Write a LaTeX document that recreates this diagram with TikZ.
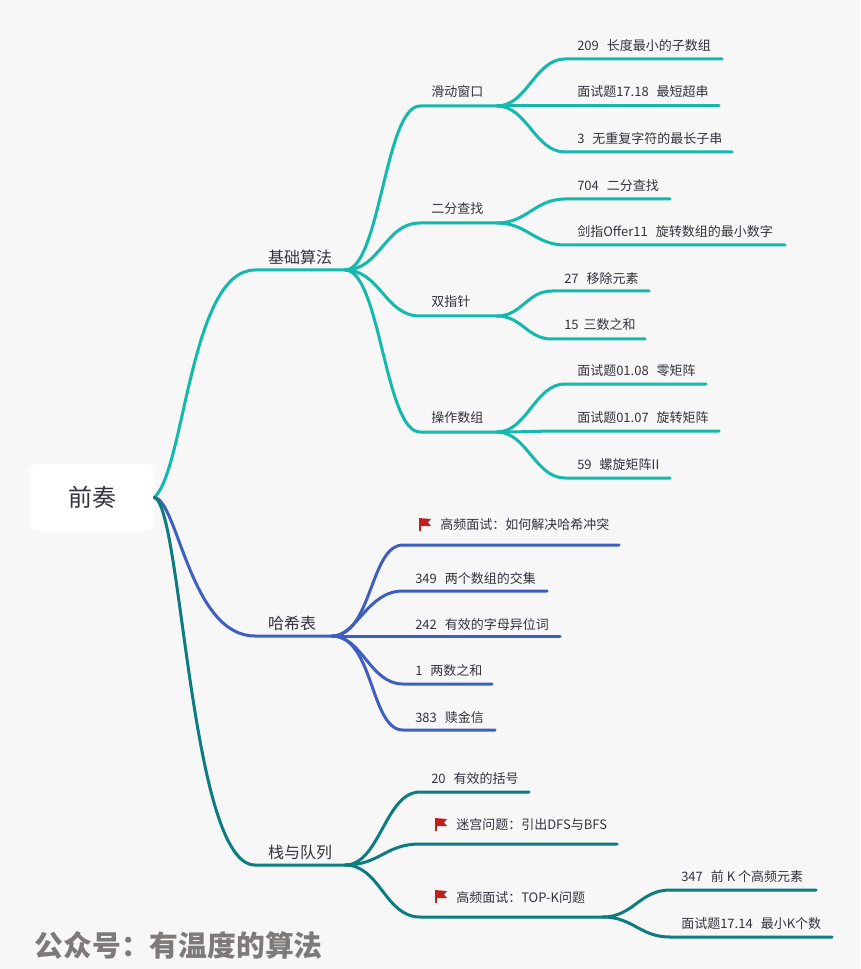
\documentclass[tikz,border=0pt]{standalone}
\usepackage{fontspec}
\setmainfont{Noto Sans CJK SC}
\usetikzlibrary{positioning}
\definecolor{pagegray}{HTML}{F7F7F7}
\definecolor{inkgray}{HTML}{33333D}
\definecolor{markgray}{HTML}{7F7A7A}
\definecolor{flagred}{HTML}{C0211C}
\definecolor{basecolor}{HTML}{12B9AC}
\definecolor{hashcolor}{HTML}{3F5FC0}
\definecolor{stackcolor}{HTML}{0C7C80}
\newcommand{\gap}{\hspace{6pt}}
\tikzset{
	topic/.style = {text=inkgray, font=\fontsize{12}{14}\selectfont, inner sep=0pt, yshift=-0.75pt},
	leaf/.style = {text=inkgray, font=\fontsize{9.75}{12}\selectfont, anchor=west, inner sep=0pt, yshift=-0.75pt},
	branch/.style = {line width=2.25pt, line cap=round},
	flagmark/.pic = {
		\fill[flagred] (0,0) rectangle (2,13);
		\fill[flagred] (0,0) -- (12,1) -- (9,4.5) -- (12,8) -- (0,8) -- cycle;
	}
}
\begin{document}
\begin{tikzpicture}[x=0.75pt,y=-0.75pt]
	\useasboundingbox (0,0) rectangle (860,969);
	\fill[pagegray] (0,0) rectangle (860,969);
	\node[fill=white, rounded corners=6pt, minimum width=93pt, minimum height=50.25pt, inner sep=0pt, text=inkgray, font=\fontsize{18}{20}\selectfont] (root) at (92,497.5) {前奏};
	\node[text=markgray, font=\fontsize{21.6}{24}\bfseries\selectfont, anchor=west, inner sep=0pt] (mark) at (34.5,945) {公众号：有温度的算法};

	% first group
	\node[topic] (base) at (300,256) {基础算法};
	\coordinate (baseS) at (255,270);
	\coordinate (baseE) at (345,270);
	\node[leaf] (win) at (431,91) {滑动窗口};
	\coordinate (winS) at (420,106);
	\coordinate (winE) at (497,106);
	\node[leaf] (bin) at (431,208) {二分查找};
	\coordinate (binS) at (420,223);
	\coordinate (binE) at (497,223);
	\node[leaf] (ptr) at (431,301) {双指针};
	\coordinate (ptrS) at (420,316);
	\coordinate (ptrE) at (497,316);
	\node[leaf] (mat) at (431,417) {操作数组};
	\coordinate (matS) at (420,432);
	\coordinate (matE) at (497,432);
	\node[leaf] (p209) at (577,45) {209\gap 长度最小的子数组};
	\coordinate (p209S) at (565,59);
	\coordinate (p209E) at (722,59);
	\node[leaf] (p1718) at (577,91) {面试题17.18\gap 最短超串};
	\coordinate (p1718S) at (565,106);
	\coordinate (p1718E) at (719,106);
	\node[leaf] (p3) at (577,138) {3\gap 无重复字符的最长子串};
	\coordinate (p3S) at (565,152);
	\coordinate (p3E) at (732,152);
	\node[leaf] (p704) at (577,185) {704\gap 二分查找};
	\coordinate (p704S) at (565,199);
	\coordinate (p704E) at (670,199);
	\node[leaf] (p11) at (577,231) {剑指Offer11\gap 旋转数组的最小数字};
	\coordinate (p11S) at (565,245);
	\coordinate (p11E) at (785,245);
	\node[leaf] (p27) at (564,278) {27\gap 移除元素};
	\coordinate (p27S) at (552,291);
	\coordinate (p27E) at (649,291);
	\node[leaf] (p15) at (564,324) {15\hspace{3.7pt}三数之和};
	\coordinate (p15S) at (552,339);
	\coordinate (p15E) at (645,339);
	\node[leaf] (p0108) at (577,370) {面试题01.08\gap 零矩阵};
	\coordinate (p0108S) at (565,384);
	\coordinate (p0108E) at (706,384);
	\node[leaf] (p0107) at (577,417) {面试题01.07\gap 旋转矩阵};
	\coordinate (p0107S) at (565,431);
	\coordinate (p0107E) at (719,431);
	\node[leaf] (p59) at (577,464) {59\gap 螺旋矩阵II};
	\coordinate (p59S) at (565,478);
	\coordinate (p59E) at (670,478);

	\begin{scope}[branch,basecolor]
		\draw (root.east) .. controls (185,470) and (190,270) .. (baseS) -- (baseE);
		\draw (baseE) .. controls +(35,0) and +(-35,0) .. (winS) -- (winE);
		\draw (baseE) .. controls +(35,0) and +(-35,0) .. (binS) -- (binE);
		\draw (baseE) .. controls +(35,0) and +(-35,0) .. (ptrS) -- (ptrE);
		\draw (baseE) .. controls +(35,0) and +(-35,0) .. (matS) -- (matE);
		\draw (winE) .. controls +(30,0) and +(-30,0) .. (p209S) -- (p209E);
		\draw (winE) .. controls +(30,0) and +(-30,0) .. (p1718S) -- (p1718E);
		\draw (winE) .. controls +(30,0) and +(-30,0) .. (p3S) -- (p3E);
		\draw (binE) .. controls +(30,0) and +(-30,0) .. (p704S) -- (p704E);
		\draw (binE) .. controls +(30,0) and +(-30,0) .. (p11S) -- (p11E);
		\draw (ptrE) .. controls +(25,0) and +(-25,0) .. (p27S) -- (p27E);
		\draw (ptrE) .. controls +(25,0) and +(-25,0) .. (p15S) -- (p15E);
		\draw (matE) .. controls +(30,0) and +(-30,0) .. (p0108S) -- (p0108E);
		\draw (matE) .. controls +(30,0) and +(-30,0) .. (p0107S) -- (p0107E);
		\draw (matE) .. controls +(30,0) and +(-30,0) .. (p59S) -- (p59E);
	\end{scope}

	% second group
	\node[topic] (hash) at (292,622) {哈希表};
	\coordinate (hashS) at (255,636);
	\coordinate (hashE) at (332,636);
	\pic at (419,518) {flagmark};
	\node[leaf] (conf) at (440,524) {高频面试：如何解决哈希冲突};
	\coordinate (confS) at (403,545);
	\coordinate (confE) at (619,545);
	\node[leaf] (p349) at (415,578) {349\gap 两个数组的交集};
	\coordinate (p349S) at (403,591);
	\coordinate (p349E) at (547,591);
	\node[leaf] (p242) at (415,624) {242\gap 有效的字母异位词};
	\coordinate (p242S) at (403,636);
	\coordinate (p242E) at (560,636);
	\node[leaf] (p1) at (415,670) {1\gap 两数之和};
	\coordinate (p1S) at (403,684);
	\coordinate (p1E) at (492,684);
	\node[leaf] (p383) at (415,717) {383\gap 赎金信};
	\coordinate (p383S) at (403,730);
	\coordinate (p383E) at (495,730);

	\begin{scope}[branch,hashcolor]
		\draw (root.east) .. controls (178,500) and (190,636) .. (hashS) -- (hashE);
		\draw (hashE) .. controls +(40,0) and +(-33,0) .. (confS) -- (confE);
		\draw (hashE) .. controls +(25,0) and +(-36,0) .. (p349S) -- (p349E);
		\draw (hashE) -- (p242S) -- (p242E);
		\draw (hashE) .. controls +(30,0) and +(-33,0) .. (p1S) -- (p1E);
		\draw (hashE) .. controls +(42,0) and +(-33,0) .. (p383S) -- (p383E);
	\end{scope}

	% third group
	\node[topic] (stack) at (300,851) {栈与队列};
	\coordinate (stackS) at (255,865);
	\coordinate (stackE) at (345,865);
	\node[leaf] (p20) at (431,778) {20\gap 有效的括号};
	\coordinate (p20S) at (420,792);
	\coordinate (p20E) at (529,792);
	\pic at (435,818) {flagmark};
	\node[leaf] (maze) at (456,824) {迷宫问题：引出DFS与BFS};
	\coordinate (mazeS) at (420,844);
	\coordinate (mazeE) at (617,844);
	\pic at (435,890) {flagmark};
	\node[leaf] (topk) at (456,897) {高频面试：TOP-K问题};
	\coordinate (topkS) at (420,917);
	\coordinate (topkE) at (603,917);
	\node[leaf] (p347) at (681,876) {347\gap 前 K 个高频元素};
	\coordinate (p347S) at (670,890);
	\coordinate (p347E) at (816,890);
	\node[leaf] (p1714) at (681,923) {面试题17.14\gap 最小K个数};
	\coordinate (p1714S) at (670,937);
	\coordinate (p1714E) at (832,937);

	\begin{scope}[branch,stackcolor]
		\draw (root.east) .. controls (182,505) and (190,865) .. (stackS) -- (stackE);
		\draw (stackE) .. controls +(35,0) and +(-35,0) .. (p20S) -- (p20E);
		\draw (stackE) .. controls +(35,0) and +(-35,0) .. (mazeS) -- (mazeE);
		\draw (stackE) .. controls +(35,0) and +(-35,0) .. (topkS) -- (topkE);
		\draw (topkE) .. controls +(30,0) and +(-30,0) .. (p347S) -- (p347E);
		\draw (topkE) .. controls +(30,0) and +(-30,0) .. (p1714S) -- (p1714E);
	\end{scope}
\end{tikzpicture}
\end{document}
